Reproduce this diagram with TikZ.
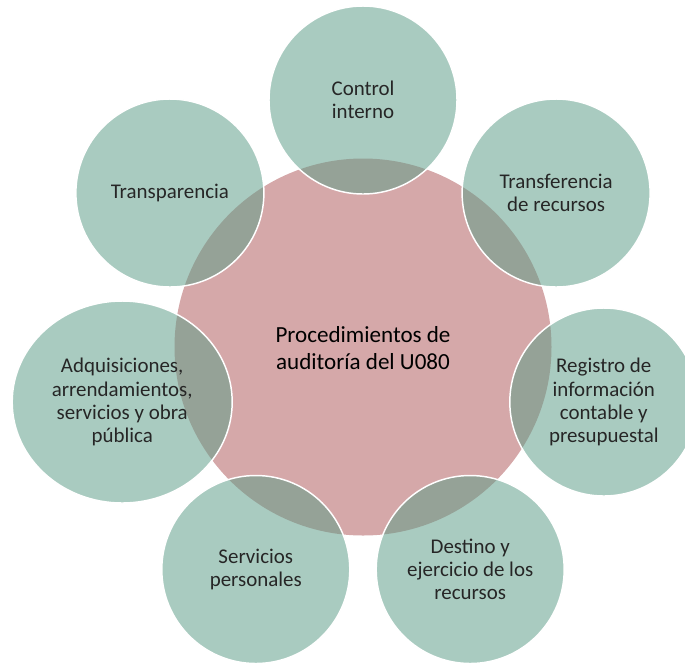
\documentclass[tikz,border=0pt]{standalone}
\usepackage{fontspec}
\setmainfont{Carlito}
\usetikzlibrary{shapes.geometric}
\definecolor{pinkc}{RGB}{213,168,169}
\definecolor{greenc}{RGB}{93,157,136}
\definecolor{txtc}{RGB}{38,38,38}
\tikzset{
  hub/.style={circle, fill=pinkc, inner sep=0pt, minimum size=282.75pt, align=center,
    font=\fontsize{17.3pt}{20pt}\selectfont, text=black},
  satcommon/.style={fill=greenc, fill opacity=0.53, text opacity=1, draw=white, draw opacity=1,
    line width=1.1pt, inner sep=0pt, align=center, text=txtc,
    font=\fontsize{15.7pt}{17.3pt}\selectfont},
  sat/.style={satcommon, circle, minimum size=141pt},
  satwide/.style={satcommon, ellipse, minimum width=165pt, minimum height=151.5pt}
}
\begin{document}
\begin{tikzpicture}[x=0.75pt,y=-0.75pt]
\useasboundingbox (0,0) rectangle (685,662);
\node[hub] (hub) at (363,347) {};
\node[sat] (ctrl) at (363,100) {Control\\interno};
\node[sat] (transf) at (556.1,193) {Transferencia\\de recursos};
\node[sat] (reg) at (603.8,402) {Registro de\\información\\contable y\\presupuestal};
\node[sat] (dest) at (470.2,569.5) {Destino y\\ejercicio de los\\recursos};
\node[sat] (serv) at (255.8,569.5) {Servicios\\personales};
\node[satwide] (adq) at (122.2,402) {Adquisiciones,\\arrendamientos,\\servicios y obra\\pública};
\node[sat] (transp) at (169.9,193) {Transparencia};
\node[font=\fontsize{17.3pt}{20pt}\selectfont, align=center, text=black] (hubtext) at (363,348) {Procedimientos de\\auditoría del U080};
\end{tikzpicture}
\end{document}
